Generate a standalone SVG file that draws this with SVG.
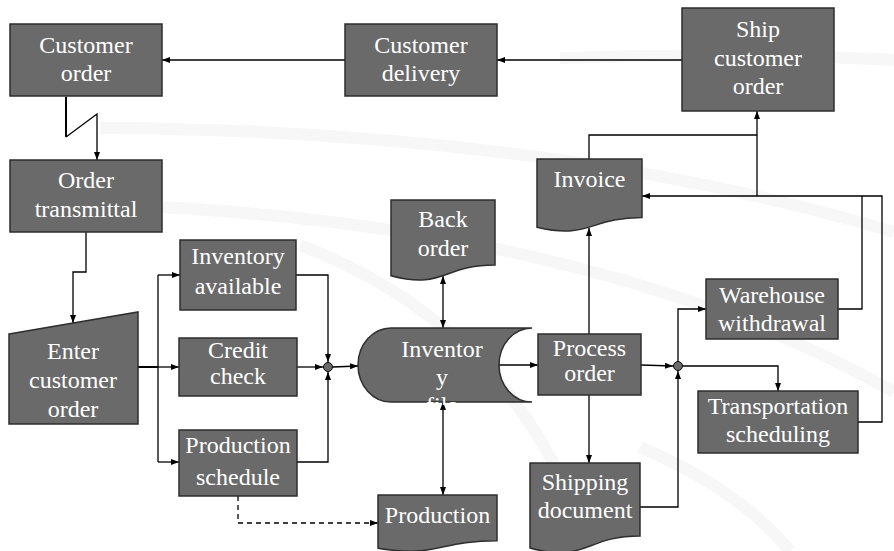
<svg xmlns="http://www.w3.org/2000/svg" width="894" height="551" viewBox="0 0 894 551">
<style>
.box{fill:#6a6a6a;stroke:#2e2e2e;stroke-width:1.5}
.lbl{font-size:24px;fill:#ffffff;text-anchor:middle}
.c{fill:none;stroke:#000;stroke-width:1.3}
.a{marker-end:url(#ah)}
.bg{fill:none;stroke:#f7f7f7;stroke-width:12}
</style>
<defs>
<marker id="ah" viewBox="0 0 8 6" refX="8" refY="3" markerWidth="8" markerHeight="6" markerUnits="userSpaceOnUse" orient="auto-start-reverse">
<path d="M0,0 L8,3 L0,6 Z" fill="#000"/>
</marker>
<clipPath id="cylclip"><rect x="350" y="320" width="200" height="85"/></clipPath>
</defs>
<rect width="894" height="551" fill="#ffffff"/>
<g id="background">
<path class="bg" d="M100,128 Q550,130 894,232"/>
<path class="bg" d="M120,205 Q600,225 894,392"/>
<path class="bg" d="M560,58 Q750,52 894,60"/>
<path class="bg" d="M300,245 Q520,330 590,551"/>
<path class="bg" d="M640,447 Q740,490 790,551"/>
</g>
<g id="connectors">
<path class="c a" d="M682,60 H497"/>
<path class="c a" d="M345,60 H162"/>
<path class="c" style="stroke-width:2" d="M66,97 V137"/>
<path class="c a" d="M66,137 L97,114 V160"/>
<path class="c a" d="M86,232 V272 H73 V323"/>
<path class="c" style="stroke-width:2" d="M138,367 H158"/>
<path class="c a" d="M158,367 H179"/>
<path class="c" d="M158,275 V462"/>
<path class="c a" d="M158,275 H180"/>
<path class="c a" d="M158,462 H179"/>
<path class="c a" d="M296,275 H328 V362"/>
<path class="c a" d="M297,367 H323"/>
<path class="c a" d="M297,462 H328 V372"/>
<path class="c a" d="M333,367 L358,366"/>
<path class="c a" style="stroke-dasharray:5,4" d="M238,496 V523 H378"/>
<path class="c a" style="marker-start:url(#ah)" d="M443,276 V328"/>
<path class="c a" style="marker-start:url(#ah)" d="M443,402 V495"/>
<path class="c a" d="M499,365 H538"/>
<path class="c a" d="M589,334 V228"/>
<path class="c a" d="M589,395 V463"/>
<path class="c a" d="M641,365 L673,366"/>
<path class="c a" d="M678,361 V309 H706"/>
<path class="c a" d="M683,366 H778 V391"/>
<path class="c a" d="M640,507 H678 V371"/>
<path class="c" d="M838,309 H862 V196"/>
<path class="c a" d="M858,422 H882 V196 H642"/>
<path class="c a" d="M757,196 V111"/>
<path class="c" d="M589,159 V135 H757"/>
<circle cx="328" cy="367" r="4.5" fill="#6a6a6a" stroke="#000" stroke-width="1"/>
<circle cx="678" cy="366" r="4.5" fill="#6a6a6a" stroke="#000" stroke-width="1"/>
</g>
<g id="customer-order">
<rect class="box" x="10" y="24" width="152" height="72"/>
<text class="lbl" font-family="Liberation Serif" x="86" y="53">Customer</text>
<text class="lbl" font-family="Liberation Serif" x="86" y="81">order</text>
</g>
<g id="customer-delivery">
<rect class="box" x="345" y="24" width="152" height="72"/>
<text class="lbl" font-family="Liberation Serif" x="421" y="53">Customer</text>
<text class="lbl" font-family="Liberation Serif" x="421" y="81">delivery</text>
</g>
<g id="ship-customer-order">
<rect class="box" x="682" y="8" width="152" height="103"/>
<text class="lbl" font-family="Liberation Serif" x="758" y="37">Ship</text>
<text class="lbl" font-family="Liberation Serif" x="758" y="65.5">customer</text>
<text class="lbl" font-family="Liberation Serif" x="758" y="94">order</text>
</g>
<g id="order-transmittal">
<rect class="box" x="10" y="160" width="152" height="72"/>
<text class="lbl" font-family="Liberation Serif" x="86" y="188">Order</text>
<text class="lbl" font-family="Liberation Serif" x="86" y="217">transmittal</text>
</g>
<g id="enter-customer-order">
<polygon class="box" points="9,334 138,312 138,424 9,424"/>
<text class="lbl" font-family="Liberation Serif" x="73" y="359">Enter</text>
<text class="lbl" font-family="Liberation Serif" x="73" y="388">customer</text>
<text class="lbl" font-family="Liberation Serif" x="73" y="417">order</text>
</g>
<g id="inventory-available">
<rect class="box" x="180" y="240" width="116" height="70"/>
<text class="lbl" font-family="Liberation Serif" x="238" y="264">Inventory</text>
<text class="lbl" font-family="Liberation Serif" x="238" y="294">available</text>
</g>
<g id="credit-check">
<rect class="box" x="179" y="338" width="118" height="58"/>
<text class="lbl" font-family="Liberation Serif" x="238" y="358">Credit</text>
<text class="lbl" font-family="Liberation Serif" x="238" y="384">check</text>
</g>
<g id="production-schedule">
<rect class="box" x="179" y="430" width="118" height="66"/>
<text class="lbl" font-family="Liberation Serif" x="238" y="453">Production</text>
<text class="lbl" font-family="Liberation Serif" x="238" y="485">schedule</text>
</g>
<g id="back-order">
<path class="box" d="M391,200 H495 V265 C443,265 443,289.7 391,275.7 Z"/>
<text class="lbl" font-family="Liberation Serif" x="443" y="227">Back</text>
<text class="lbl" font-family="Liberation Serif" x="443" y="256">order</text>
</g>
<g id="inventory-file">
<path class="box" d="M391,328 H532 A33,37 0 0 0 532,402 H391 A33,37 0 0 1 391,328 Z"/>
<g clip-path="url(#cylclip)">
<text class="lbl" font-family="Liberation Serif" x="442" y="357">Inventor</text>
<text class="lbl" font-family="Liberation Serif" x="442" y="385">y</text>
<text class="lbl" font-family="Liberation Serif" x="442" y="413">file</text>
</g>
</g>
<g id="production">
<path class="box" d="M378,495 H497 V540.7 C437.5,540.7 437.5,558.1 378,548.2 Z"/>
<text class="lbl" font-family="Liberation Serif" x="437.5" y="523">Production</text>
</g>
<g id="invoice">
<path class="box" d="M537,159 H642 V217.5 C589.5,217.5 589.5,239.8 537,227.2 Z"/>
<text class="lbl" font-family="Liberation Serif" x="589.5" y="187">Invoice</text>
</g>
<g id="process-order">
<rect class="box" x="538" y="334" width="103" height="61"/>
<text class="lbl" font-family="Liberation Serif" x="589.5" y="356">Process</text>
<text class="lbl" font-family="Liberation Serif" x="589.5" y="381">order</text>
</g>
<g id="shipping-document">
<path class="box" d="M530,463 H640 V536 C585,536 585,563.7 530,548 Z"/>
<text class="lbl" font-family="Liberation Serif" x="585" y="490">Shipping</text>
<text class="lbl" font-family="Liberation Serif" x="585" y="518">document</text>
</g>
<g id="warehouse-withdrawal">
<rect class="box" x="706" y="279" width="132" height="60"/>
<text class="lbl" font-family="Liberation Serif" x="772" y="303">Warehouse</text>
<text class="lbl" font-family="Liberation Serif" x="772" y="331">withdrawal</text>
</g>
<g id="transportation-scheduling">
<rect class="box" x="698" y="391" width="160" height="62"/>
<text class="lbl" font-family="Liberation Serif" x="778" y="414">Transportation</text>
<text class="lbl" font-family="Liberation Serif" x="778" y="442">scheduling</text>
</g>
</svg>
